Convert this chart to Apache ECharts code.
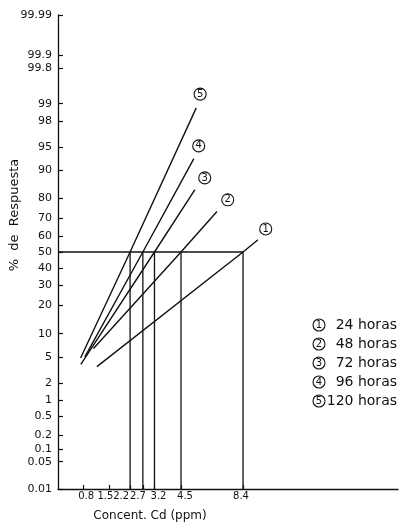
<!DOCTYPE html>
<html>
<head>
<meta charset="utf-8">
<title>Concent. Cd (ppm) - % de Respuesta</title>
<script src="https://cdn.jsdelivr.net/npm/echarts@6/dist/echarts.min.js"></script>
<style>
  html, body { margin: 0; padding: 0; background: #ffffff; }
  #chart { width: 399px; height: 525px; }
</style>
</head>
<body>
<div id="chart"></div>
<script>
// Concentration tick labels (ppm) on the horizontal axis
const concTicks = [0.8, 1.5, 2.2, 2.7, 3.2, 4.5, 8.4];
// Probability-scale tick labels (% response)
const pctTicks = [0.01, 0.05, 0.1, 0.2, 0.5, 1, 2, 5, 10, 20, 30, 40, 50, 60, 70, 80, 90, 95, 98, 99, 99.8, 99.9, 99.99];
// Exposure times (hours) for each response line
const hours = [24, 48, 72, 96, 120];
// LC50 for each exposure time (ppm)
const lc50 = [8.4, 4.5, 3.2, 2.7, 2.2];
// Lower end of each response line
const lowConc = [1.14, 1.05, 0.75, 0.84, 0.745];
const lowPct = [3.6, 6.5, 3.9, 5.0, 4.8];
// Upper end of each response line
const highConc = [9.5, 6.6, 5.26, 5.2, 5.34];
const highPct = [57.5, 73.6, 83.5, 92.8, 98.8];

// Inverse standard normal CDF (Acklam) -> probit scale
function probit(p) {
  const a = [-3.969683028665376e+01, 2.209460984245205e+02, -2.759285104469687e+02, 1.383577518672690e+02, -3.066479806614716e+01, 2.506628277459239e+00];
  const b = [-5.447609879822406e+01, 1.615858368580409e+02, -1.556989798598866e+02, 6.680131188771972e+01, -1.328068155288572e+01];
  const c = [-7.784894002430293e-03, -3.223964580411365e-01, -2.400758277161838e+00, -2.549732539343734e+00, 4.374664141464968e+00, 2.938163982698783e+00];
  const d = [7.784695709041462e-03, 3.224671290700398e-01, 2.445134137142996e+00, 3.754408661907416e+00];
  const plow = 0.02425, phigh = 1 - plow;
  let q, r;
  if (p < plow) {
    q = Math.sqrt(-2 * Math.log(p));
    return (((((c[0]*q+c[1])*q+c[2])*q+c[3])*q+c[4])*q+c[5]) / ((((d[0]*q+d[1])*q+d[2])*q+d[3])*q+1);
  }
  if (p <= phigh) {
    q = p - 0.5; r = q * q;
    return (((((a[0]*r+a[1])*r+a[2])*r+a[3])*r+a[4])*r+a[5])*q / (((((b[0]*r+b[1])*r+b[2])*r+b[3])*r+b[4])*r+1);
  }
  q = Math.sqrt(-2 * Math.log(1 - p));
  return -(((((c[0]*q+c[1])*q+c[2])*q+c[3])*q+c[4])*q+c[5]) / ((((d[0]*q+d[1])*q+d[2])*q+d[3])*q+1);
}
const Z = pct => probit(pct / 100);      // % -> probit units
const S = conc => Math.sqrt(conc);       // ppm -> square-root concentration units

const INK = '#111111';
const FONT = 'DejaVu Sans';

const yMin = Z(pctTicks[0]);
const yMax = Z(pctTicks[pctTicks.length - 1]);
const xMin = 0.58, xMax = 4.84;

function nearestIndex(arr, v) {
  let best = 0, bd = Infinity;
  arr.forEach((a, i) => { const dd = Math.abs(a - v); if (dd < bd) { bd = dd; best = i; } });
  return best;
}
const xTickPos = concTicks.map(S);
const yTickPos = pctTicks.map(Z);

// horizontal nudges (rich-text padding) for the crowded concentration labels
const xLabelPad = {
  '0.8': [0, 0, 0, 6],
  '1.5': [0, 8, 0, 0],
  '2.2': [0, 18, 0, 0],
  '2.7': [0, 10, 0, 0],
  '3.2': [0, 0, 0, 8],
  '4.5': [0, 0, 0, 8],
  '8.4': [0, 4, 0, 0]
};
const xRich = {};
Object.keys(xLabelPad).forEach((k, i) => { xRich['p' + i] = { padding: xLabelPad[k], fontSize: 10, color: INK }; });

// placement of the circled line numbers relative to each line's upper end
const tagOffset = [[8, -11], [11, -12], [10, -12], [5, -13], [4, -14]];

const circleText = {
  width: 12, height: 12, lineHeight: 12, align: 'center', verticalAlign: 'middle',
  borderColor: INK, borderWidth: 1.1, borderRadius: 7, fontSize: 10, color: INK, fontFamily: FONT
};

const series = [];

// response lines: lower end -> LC50 (50 %) -> upper end
hours.forEach((h, i) => {
  series.push({
    name: h + ' horas',
    type: 'line',
    data: [
      { value: [S(lowConc[i]), Z(lowPct[i])], symbol: 'none' },
      { value: [S(lc50[i]), Z(50)], symbol: 'none' },
      {
        value: [S(highConc[i]), Z(highPct[i])],
        symbol: 'circle', symbolSize: 1,
        label: {
          show: true, position: 'inside', offset: tagOffset[i],
          formatter: '{c|' + (i + 1) + '}',
          rich: { c: circleText }
        }
      }
    ],
    lineStyle: { color: INK, width: 1.4 },
    itemStyle: { color: INK },
    showSymbol: true,
    silent: true,
    animation: false,
    z: 3
  });
});

// drop lines from the 50 % level to each LC50
lc50.forEach(c => {
  series.push({
    type: 'line',
    data: [[S(c), yMin], [S(c), Z(50)]],
    symbol: 'none',
    lineStyle: { color: INK, width: 1.3 },
    silent: true, animation: false, z: 2
  });
});

// 50 % reference line
series.push({
  type: 'line',
  data: [[xMin, Z(50)], [S(Math.max(...lc50)), Z(50)]],
  symbol: 'none',
  lineStyle: { color: INK, width: 1.4 },
  silent: true, animation: false, z: 2
});

const legendNames = hours.map(h => h + ' horas');

const chart = echarts.init(document.getElementById('chart'), null, { renderer: 'canvas' });
chart.setOption({
  backgroundColor: '#ffffff',
  animation: false,
  textStyle: { fontFamily: FONT, color: INK },
  grid: { left: 58, right: 1, top: 15, bottom: 36, containLabel: false, outerBoundsMode: 'none' },
  legend: {
    data: legendNames,
    orient: 'vertical',
    right: 2,
    top: 318,
    padding: 0,
    icon: 'none',
    itemWidth: 0,
    itemHeight: 0,
    itemGap: 5,
    selectedMode: false,
    formatter: name => '{c|' + (legendNames.indexOf(name) + 1) + '}{t|' + name + '}',
    textStyle: {
      fontFamily: FONT, color: INK, fontSize: 14,
      rich: {
        c: Object.assign({}, circleText, { width: 12, height: 12, lineHeight: 12, fontSize: 10 }),
        t: { width: 72, align: 'right', fontSize: 14, lineHeight: 14, color: INK, fontFamily: FONT }
      }
    }
  },
  xAxis: {
    type: 'value',
    min: xMin,
    max: xMax,
    name: 'Concent. Cd (ppm)',
    nameLocation: 'middle',
    nameGap: 21,
    nameMoveOverlap: false,
    nameTextStyle: { fontSize: 12, color: INK, fontFamily: FONT, padding: [0, 156, 0, 0] },
    axisLine: { show: true, onZero: false, lineStyle: { color: INK, width: 1.3 } },
    axisTick: { show: true, inside: true, length: 4, customValues: xTickPos, lineStyle: { color: INK, width: 1.2 } },
    axisLabel: {
      customValues: xTickPos,
      margin: 2,
      fontSize: 10,
      color: INK,
      formatter: v => {
        const i = nearestIndex(xTickPos, v);
        return '{p' + i + '|' + concTicks[i] + '}';
      },
      rich: xRich
    },
    splitLine: { show: false }
  },
  yAxis: {
    type: 'value',
    min: yMin,
    max: yMax,
    name: '%  de  Respuesta',
    nameLocation: 'middle',
    nameRotate: 90,
    nameGap: 37,
    nameMoveOverlap: false,
    nameTextStyle: { fontSize: 13, color: INK, fontFamily: FONT, padding: [0, 0, 0, 74] },
    axisLine: { show: true, onZero: false, lineStyle: { color: INK, width: 1.3 } },
    axisTick: { show: true, inside: true, length: 5, customValues: yTickPos, lineStyle: { color: INK, width: 1.2 } },
    axisLabel: {
      customValues: yTickPos,
      margin: 6,
      fontSize: 11,
      color: INK,
      formatter: v => String(pctTicks[nearestIndex(yTickPos, v)])
    },
    splitLine: { show: false }
  },
  series: series
});
</script>
</body>
</html>
